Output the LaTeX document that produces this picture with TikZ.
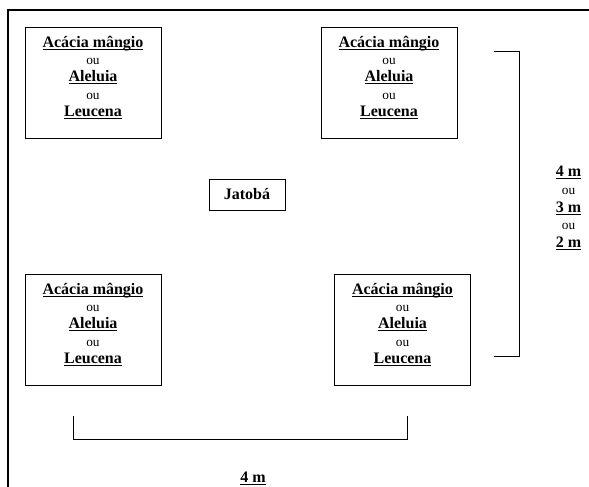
\documentclass[tikz,border=0pt]{standalone}
\usepackage{fontspec}
\setmainfont{Liberation Serif}
\usetikzlibrary{positioning}
\newcommand{\ouword}{{\fontsize{10}{13}\selectfont ou}}
\newcommand{\ulname}[1]{\underline{\smash{\textbf{#1}}}}
\newcommand{\plantnames}{\ulname{Acácia mângio}\\ \ouword\\ \ulname{Aleluia}\\ \ouword\\ \ulname{Leucena}}

\begin{document}
\begin{tikzpicture}[x=0.75pt,y=-0.75pt,
    plantbox/.style={draw=black,line width=0.75pt,minimum width=102pt,minimum height=83.25pt,inner sep=0pt},
    plantname/.style={align=center,inner sep=0pt,font=\fontsize{12}{13}\selectfont},
    jatoba/.style={draw=black,line width=0.75pt,minimum width=57pt,minimum height=23.25pt,inner sep=0pt,font=\fontsize{12}{13}\selectfont\bfseries},
    dist/.style={align=center,inner sep=0pt,font=\fontsize{12}{13.3}\selectfont}]
  \useasboundingbox (0,0) rectangle (589,486);
  % frame:
  \draw[line width=1.5pt] (8,495) -- (8,10) -- (600,10);

  % trees:
  \foreach \n/\x/\y in {tl/93/82.5, tr/389/82.5, bl/93/329.5, br/402.5/329.5}
  {
    \node[plantbox] (\n) at (\x,\y) {};
    \node[plantname] (\n-txt) at (\x,\y+0.5) {\plantnames};
  }
  \node[jatoba] (J) at (247,194.5) {Jatobá};

  % distances:
  \coordinate (rtop) at (494,51);
  \coordinate (rbot) at (494,356);
  \draw[line width=0.75pt] (rtop) -- ++(25,0) |- (rbot);
  \node[dist] (rlabel) at (568.5,213.5) {\ulname{4 m}\\ \ouword\\ \ulname{3 m}\\ \ouword\\ \ulname{2 m}};

  \coordinate (bleft) at (73,416);
  \coordinate (bright) at (407,416);
  \draw[line width=0.75pt] (bleft) -- ++(0,23) -| (bright);
  \node[dist] (blabel) at (253,484) {\ulname{4 m}};
\end{tikzpicture}
\end{document}
